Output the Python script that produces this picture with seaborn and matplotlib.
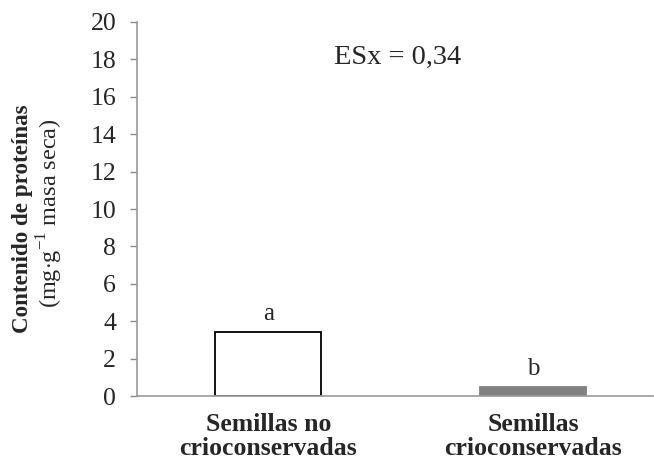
import matplotlib
matplotlib.use("Agg")
import matplotlib.pyplot as plt
import seaborn as sns
import pandas as pd

categories = ["Semillas no\ncrioconservadas", "Semillas\ncrioconservadas"]
values = [3.4, 0.5]
letters = ["a", "b"]
colors = ["white", "#808080"]
yticks = [0, 2, 4, 6, 8, 10, 12, 14, 16, 18, 20]
es_text = "ESx = 0,34"

sns.set_theme(style="white")
plt.rcParams["font.family"] = ["Liberation Serif", "DejaVu Serif"]
plt.rcParams["mathtext.fontset"] = "custom"
plt.rcParams["mathtext.rm"] = "Liberation Serif"

df = pd.DataFrame({"cat": categories, "val": values})

fig = plt.figure(figsize=(6.54, 4.61), dpi=100)
ax = fig.add_axes([137/654, 65/461, (653-137)/654, (396-22)/461])

sns.barplot(data=df, x="cat", y="val", hue="cat", palette=colors, legend=False,
            width=0.4, ax=ax, linewidth=0)
for i, p in enumerate(ax.patches):
    if i == 0:
        p.set_edgecolor("black")
        p.set_linewidth(1.3)
    else:
        p.set_edgecolor("#808080")
        p.set_linewidth(1.3)

for i, (v, l) in enumerate(zip(values, letters)):
    ax.annotate(l, (i, v), xytext=(0, 13), textcoords="offset points",
                ha="center", va="center", fontsize=18)

ax.set_ylim(0, 20)
ax.set_xlim(-0.496, 1.451)
ax.set_yticks(yticks)
ax.set_yticklabels([str(t) for t in yticks], fontsize=18.5)
ax.set_xticks([0, 1])
ax.set_xticklabels(categories, fontsize=18.5, fontweight="bold", linespacing=1.1)
ax.tick_params(axis="y", length=5, width=1, color="#888888", direction="out", left=True, pad=10)
ax.tick_params(axis="x", length=0, pad=12)
ax.set_xlabel("")
ax.set_ylabel("")
for s in ["top", "right"]:
    ax.spines[s].set_visible(False)
for s in ["left", "bottom"]:
    ax.spines[s].set_color("#999999")
    ax.spines[s].set_linewidth(1.2)

ax.text(0.489, 18.1, es_text, ha="center", va="center", fontsize=20.5)

fig.text(23/654, 1 - 219/461, "Contenido de proteínas", rotation=90, ha="center", va="center",
         fontsize=16.6, fontweight="bold")
fig.text(50/654, 1 - 213/461, r"(mg$\cdot$g$^{-1}$ masa seca)", rotation=90, ha="center", va="center",
         fontsize=17.5)

fig.savefig("out.png", dpi=100)
